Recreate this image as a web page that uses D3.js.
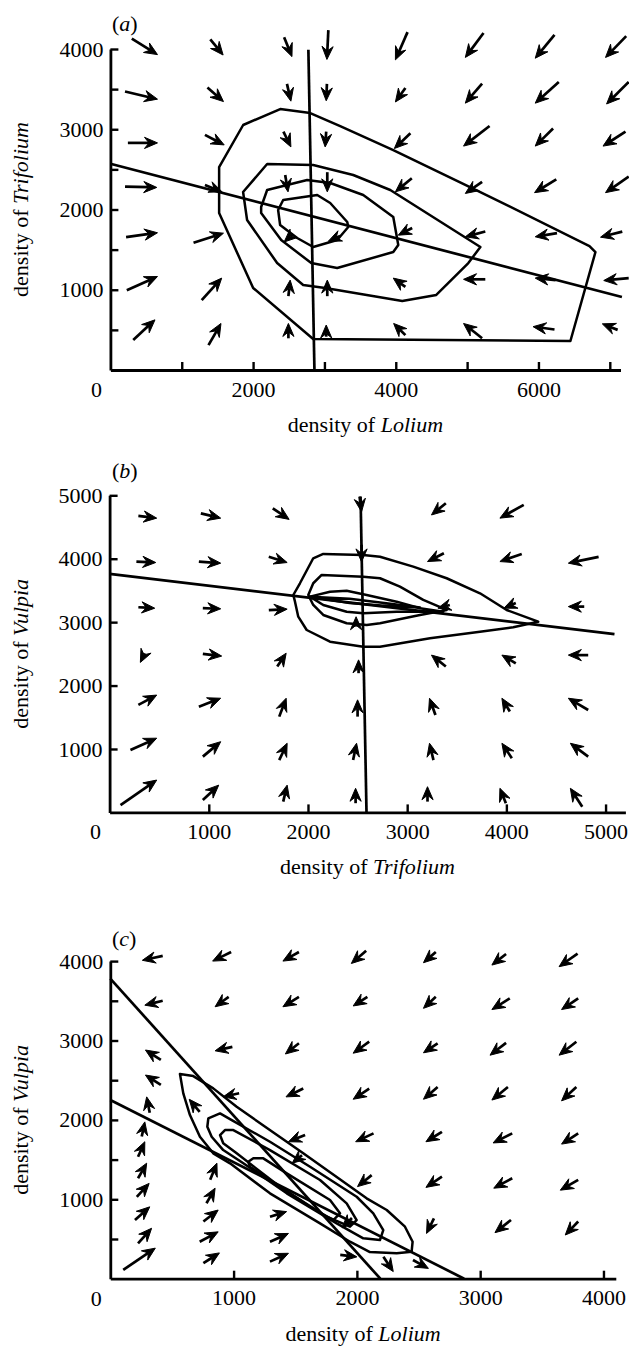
<!DOCTYPE html>
<html>
<head>
<meta charset="utf-8">
<script src="https://cdn.jsdelivr.net/npm/d3@7/dist/d3.min.js"></script>
<style>
    body { margin: 0; background: #fff; }
    svg { display: block; font-family: "Liberation Serif", "Times New Roman", serif; }
</style>
</head>
<body>
<svg id="chart" width="629" height="1349"></svg>
<script>
// ---------- panel (a): Lolium (x) vs Trifolium (y) ----------
const xTicksA = [1000, 2000, 3000, 4000, 5000, 6000, 7000];
const xLabelsA = [2000, 4000, 6000];
const yTicksA = [500, 1000, 1500, 2000, 2500, 3000, 3500, 4000];
const yLabelsA = [1000, 2000, 3000, 4000];

// arrows: [tailX, tailY, headX, headY]
const arrowsA = [
    [300,4130,660,3930],[1400,4120,1580,3925],[2435,4145,2545,3905],[3055,4235,3035,3870],
    [4165,4210,3995,3865],[5230,4200,4975,3895],[6225,4175,5955,3885],[7230,4160,6940,3895],
    [205,3470,660,3375],[1360,3520,1585,3345],[2475,3565,2530,3350],[3035,3565,3025,3355],
    [4135,3515,3995,3340],[5210,3570,4975,3325],[6285,3590,5955,3325],[7265,3590,6955,3315],
    [245,2830,660,2830],[1325,2930,1595,2805],[2425,2970,2530,2780],[3025,2970,3010,2780],
    [4205,2950,3980,2760],[5315,3040,4950,2790],[6205,3010,5955,2790],[7220,2970,6905,2790],
    [205,2285,650,2275],[1325,2305,1565,2220],[2450,2430,2490,2220],[3040,2465,3040,2220],
    [4225,2390,3995,2220],[5210,2345,4975,2200],[6250,2375,5945,2210],[7265,2410,6940,2210],
    [220,1655,660,1710],[1165,1585,1585,1705],[2560,1695,2435,1595],[3220,1670,3055,1605],
    [4230,1770,4035,1680],[5255,1725,4975,1660],[6260,1705,5955,1660],[7175,1725,6870,1655],
    [230,995,660,1165],[1280,870,1560,1145],[2495,920,2520,1120],[3040,920,3040,1120],
    [4135,1035,3965,1145],[5255,1130,4950,1130],[6240,1120,5955,1145],[7265,1145,6915,1115],
    [320,375,625,625],[1375,310,1550,580],[2495,395,2495,580],[3025,415,3025,560],
    [4135,435,3970,580],[5210,395,4950,580],[6225,505,5925,540],[7110,500,6895,575]
];

const contoursA = [
    [[2842,386],[6448,361],[6799,1470],[6715,1545],[5185,2218],[3965,2741],[3221,3040],
     [2801,3202],[2380,3252],[1861,3053],[1524,2529],[1524,1956],[2001,1022]],
    [[1860,2218],[2197,2567],[2843,2554],[3404,2430],[3923,2243],[5186,1533],[5017,1333],
     [4568,935],[4091,860],[3011,1022],[2702,1059],[2337,1333],[1916,1869]],
    [[2113,2031],[2197,2243],[2758,2367],[3081,2330],[3544,2181],[3965,1906],[4035,1558],
     [3965,1470],[3179,1271],[2815,1333],[2394,1620],[2113,1956]],
    [[2351,1994],[2422,2118],[2899,2181],[3081,2081],[3320,1844],[3334,1782],[3179,1620],
     [2843,1533],[2618,1645],[2379,1807]]
];

const nullclinesA = [
    [[0,2570],[7170,910]],
    [[2775,3990],[2860,0]]
];

// ---------- panel (b): Trifolium (x) vs Vulpia (y) ----------
const xTicksB = [1000, 2000, 3000, 4000, 5000];
const xLabelsB = [1000, 2000, 3000, 4000, 5000];
const yTicksB = [1000, 2000, 3000, 4000, 5000];
const yLabelsB = [1000, 2000, 3000, 4000, 5000];

const arrowsB = [
    [290,4675,475,4640],[920,4715,1120,4640],[1645,4795,1810,4620],[2520,4980,2540,4740],
    [3390,4875,3245,4690],[4175,4850,3935,4640],
    [270,3955,465,3940],[900,3955,1120,3930],[1605,4030,1790,3940],[2540,4220,2540,3950],
    [3370,4085,3205,3955],[4155,4075,3935,3955],[4930,4030,4625,3930],
    [290,3235,455,3220],[940,3220,1120,3210],[1605,3190,1790,3205],[2485,2930,2485,3085],
    [3430,3270,3310,3220],[4095,3300,3975,3220],[4785,3245,4625,3245],
    [355,2510,310,2365],[940,2500,1130,2465],[1690,2300,1780,2510],[2510,2195,2510,2405],
    [3390,2300,3245,2480],[4095,2350,3955,2480],[4825,2480,4625,2480],
    [290,1695,475,1850],[900,1665,1120,1800],[1710,1510,1780,1800],[2500,1510,2500,1775],
    [3285,1535,3225,1800],[4035,1590,3955,1800],[4825,1615,4625,1800],
    [210,985,475,1170],[940,880,1120,1115],[1710,825,1790,1090],[2455,825,2490,1090],
    [3265,825,3225,1090],[4055,855,3955,1090],[4825,880,4645,1090],
    [110,115,475,510],[940,195,1100,430],[1750,170,1790,430],[2480,145,2480,380],
    [3205,170,3205,405],[3995,145,3935,380],[4765,90,4645,380]
];

const contoursB = [
    [[1852,3428],[1919,3613],[2053,4007],[2154,4075],[2557,4059],[2726,4032],[3061,3875],
     [3398,3692],[3734,3455],[4003,3192],[4321,3007],[4069,2919],[3734,2850],[3230,2746],
     [2726,2613],[2557,2613],[2222,2692],[1987,2876],[1902,3086],[1869,3323]],
    [[2003,3428],[2053,3613],[2138,3744],[2557,3717],[2726,3692],[2927,3559],[3162,3350],
     [3398,3192],[3129,3113],[2726,2982],[2592,2955],[2390,2982],[2154,3113],[2053,3271]],
    [[2020,3402],[2222,3480],[2390,3496],[2592,3428],[2894,3323],[3129,3219],[3364,3165],
     [2894,3165],[2557,3140],[2390,3165],[2154,3271]],
    [[2020,3400],[2420,3370],[2830,3290],[3130,3230],[2830,3250],[2420,3300]]
];

const nullclinesB = [
    [[0,3760],[5090,2810]],
    [[2530,4980],[2590,0]]
];

// ---------- panel (c): Lolium (x) vs Vulpia (y) ----------
const xTicksC = [1000, 2000, 3000, 4000];
const xLabelsC = [1000, 2000, 3000, 4000];
const yTicksC = [500, 1000, 1500, 2000, 2500, 3000, 3500, 4000];
const yLabelsC = [1000, 2000, 3000, 4000];

const arrowsC = [
    [425,4065,260,4010],[980,4115,830,4000],[1530,4115,1400,4000],[2075,4130,1955,3970],
    [2640,4115,2540,3980],[3210,4090,3095,3950],[3790,4095,3640,3930],
    [425,3500,280,3445],[960,3550,850,3425],[1530,3550,1400,3425],[2085,3550,1970,3435],
    [2640,3550,2540,3405],[3240,3530,3095,3390],[3795,3530,3660,3390],
    [410,2755,285,2880],[990,2920,850,2870],[1530,2965,1420,2830],[2100,2985,1970,2840],
    [2655,2965,2540,2845],[3210,2970,3080,2815],[3780,2985,3640,2815],
    [410,2440,285,2565],[1045,2335,915,2290],[1565,2395,1425,2290],[2100,2395,1970,2260],
    [2655,2415,2540,2260],[3225,2415,3095,2250],[3780,2415,3660,2240],
    [1580,1810,1445,1725],[2135,1830,1990,1725],[2690,1850,2560,1725],[3260,1830,3105,1710],
    [3795,1830,3660,1695],
    [1555,1555,1475,1455],[2120,1305,2005,1160],[2690,1285,2560,1150],[3260,1265,3110,1140],
    [3795,1245,3650,1115],
    [1960,765,1880,640],[2625,760,2565,570],[3250,740,3120,580],[3795,720,3690,550],
    [105,110,365,385],[225,445,335,635],[200,740,320,905],[215,1030,315,1200],
    [225,1265,295,1455],[225,1535,280,1725],[255,1790,280,1975],[320,2090,295,2290],
    [755,195,885,325],[725,465,875,590],[755,720,875,865],[780,950,850,1140],[810,1245,865,1455],
    [1295,215,1445,320],[1295,465,1445,570],[1295,780,1430,845],
    [1865,300,2000,275],[2215,275,2295,90],[2455,235,2580,130],
    [725,2100,640,2260]
];

const contoursC = [
    [[565,2577],[673,2552],[835,2397],[1025,2165],[1565,1579],[2079,1012],[2242,865],
     [2390,655],[2452,466],[2444,340],[2323,320],[2106,336],[1944,466],[1701,697],
     [1295,1075],[971,1453],[835,1579],[727,1788],[646,2061],[592,2334]],
    [[795,2019],[890,2082],[985,1998],[1295,1725],[1620,1410],[1998,1032],[2133,823],
     [2214,613],[2187,487],[2052,509],[1836,697],[1431,1075],[1079,1453],[916,1620],
     [822,1788],[787,1914]],
    [[890,1809],[930,1872],[998,1872],[1295,1620],[1701,1243],[1917,949],[1998,739],
     [1944,655],[1755,781],[1376,1158],[1025,1579],[916,1705]],
    [[1119,1473],[1160,1516],[1241,1516],[1431,1327],[1782,991],[1863,823],[1809,739],
     [1620,906],[1295,1243],[1133,1410]]
];

const nullclinesC = [
    [[0,3780],[2190,0]],
    [[0,2250],[2870,0]]
];

// ---------- layout ----------
const panels = [
    { tag: "a", xName: "Lolium", yName: "Trifolium",
      xDomain: [0, 7150], xRange: [110.4, 620.5], yDomain: [0, 4000], yRange: [370, 49],
      xTicks: xTicksA, xLabels: xLabelsA, yTicks: yTicksA, yLabels: yLabelsA,
      arrows: arrowsA, contours: contoursA, nullclines: nullclinesA, tagY: 31 },
    { tag: "b", xName: "Trifolium", yName: "Vulpia",
      xDomain: [0, 5200], xRange: [109.6, 625.4], yDomain: [0, 5000], yRange: [812.4, 495.3],
      xTicks: xTicksB, xLabels: xLabelsB, yTicks: yTicksB, yLabels: yLabelsB,
      arrows: arrowsB, contours: contoursB, nullclines: nullclinesB, tagY: 478 },
    { tag: "c", xName: "Lolium", yName: "Vulpia",
      xDomain: [0, 4100], xRange: [110.3, 615.8], yDomain: [0, 4000], yRange: [1278.7, 961.1],
      xTicks: xTicksC, xLabels: xLabelsC, yTicks: yTicksC, yLabels: yLabelsC,
      arrows: arrowsC, contours: contoursC, nullclines: nullclinesC, tagY: 946 }
];

const svg = d3.select("#chart");
const FONT = 22;

function drawArrows(g, arrows, x, y) {
    const hl = 13, hw = 5.6, notch = 8.5;
    arrows.forEach(([x0, y0, x1, y1]) => {
        const px0 = x(x0), py0 = y(y0), px1 = x(x1), py1 = y(y1);
        const dx = px1 - px0, dy = py1 - py0;
        const len = Math.hypot(dx, dy) || 1;
        const ux = dx / len, uy = dy / len;
        const bx = px1 - ux * hl, by = py1 - uy * hl;
        if (len > notch) {
            g.append("line")
                .attr("x1", px0).attr("y1", py0)
                .attr("x2", px1 - ux * notch).attr("y2", py1 - uy * notch)
                .attr("stroke", "#000")
                .attr("stroke-width", 2.7);
        }
        g.append("path")
            .attr("d", `M${px1},${py1}L${bx - uy * hw},${by + ux * hw}` +
                `L${px1 - ux * notch},${py1 - uy * notch}L${bx + uy * hw},${by - ux * hw}Z`)
            .attr("fill", "#000")
            .attr("stroke", "#000")
            .attr("stroke-width", 1)
            .attr("stroke-linejoin", "round");
    });
}

panels.forEach((p) => {
    const x = d3.scaleLinear().domain(p.xDomain).range(p.xRange);
    const y = d3.scaleLinear().domain(p.yDomain).range(p.yRange);
    const g = svg.append("g");

    // contours / trajectories
    const line = d3.line().x((d) => x(d[0])).y((d) => y(d[1]));
    g.selectAll("path.contour")
        .data(p.contours)
        .join("path")
        .attr("class", "contour")
        .attr("d", (d) => line(d) + "Z")
        .attr("fill", "none")
        .attr("stroke", "#000")
        .attr("stroke-width", 2.5)
        .attr("stroke-linejoin", "round");

    // nullclines
    g.selectAll("path.null")
        .data(p.nullclines)
        .join("path")
        .attr("class", "null")
        .attr("d", line)
        .attr("fill", "none")
        .attr("stroke", "#000")
        .attr("stroke-width", 2.7);

    drawArrows(g, p.arrows, x, y);

    // axes
    const xAxis = d3.axisBottom(x)
        .tickValues(p.xTicks)
        .tickSizeInner(-8)
        .tickSizeOuter(0)
        .tickPadding(11)
        .tickFormat((d) => (p.xLabels.includes(d) ? d : ""));
    const yAxis = d3.axisLeft(y)
        .tickValues(p.yTicks)
        .tickSizeInner(-8)
        .tickSizeOuter(0)
        .tickPadding(7)
        .tickFormat((d) => (p.yLabels.includes(d) ? d : ""));

    const gx = g.append("g")
        .attr("transform", `translate(0,${p.yRange[0]})`)
        .call(xAxis);
    const gy = g.append("g")
        .attr("transform", `translate(${p.xRange[0]},0)`)
        .call(yAxis);

    [gx, gy].forEach((ax) => {
        ax.select(".domain").attr("stroke-width", 2.8);
        ax.selectAll(".tick line").attr("stroke-width", 2.4);
        ax.selectAll("text")
            .attr("font-family", "Liberation Serif, Times New Roman, serif")
            .attr("font-size", FONT)
            .attr("fill", "#000");
    });

    // origin label
    g.append("text")
        .attr("x", x(0) - 14)
        .attr("y", p.yRange[0] + 27)
        .attr("text-anchor", "middle")
        .attr("font-size", FONT)
        .text("0");

    // axis titles
    const xt = g.append("text")
        .attr("x", (p.xRange[0] + p.xRange[1]) / 2)
        .attr("y", p.yRange[0] + 62)
        .attr("text-anchor", "middle")
        .attr("font-size", FONT);
    xt.append("tspan").text("density of ");
    xt.append("tspan").attr("font-style", "italic").text(p.xName);

    const yt = g.append("text")
        .attr("transform", `translate(28,${(p.yRange[0] + p.yRange[1]) / 2}) rotate(-90)`)
        .attr("text-anchor", "middle")
        .attr("font-size", FONT);
    yt.append("tspan").text("density of ");
    yt.append("tspan").attr("font-style", "italic").text(p.yName);

    // panel tag
    const tg = g.append("text")
        .attr("x", 112)
        .attr("y", p.tagY)
        .attr("font-size", FONT);
    tg.append("tspan").text("(");
    tg.append("tspan").attr("font-style", "italic").text(p.tag);
    tg.append("tspan").text(")");
});
</script>
</body>
</html>
